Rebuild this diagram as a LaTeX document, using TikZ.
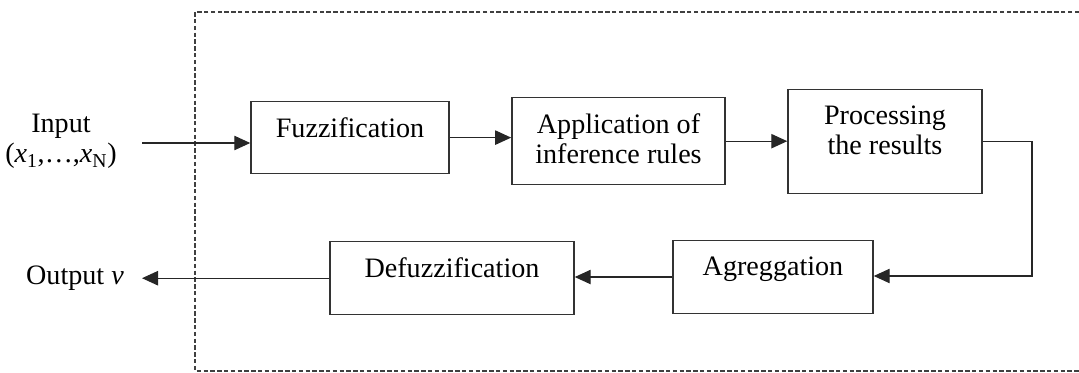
\documentclass[tikz,border=0pt]{standalone}
\usepackage{fontspec}
\setmainfont{Liberation Serif}
\usetikzlibrary{arrows.meta}

\begin{document}
\begin{tikzpicture}[
    x=0.025cm, y=-0.025cm,
    every node/.style={
        font=\fontsize{20}{21.3}\selectfont,
        text=black
    },
    stage/.style={
        draw=black!80,
        line width=1pt,
        anchor=north,
        align=center,
        inner xsep=0pt,
        inner ysep=0.4cm
    },
    flow/.style={
        draw=black!85,
        line width=0.8pt,
        -{Triangle[length=0.4cm,width=0.36cm]}
    },
    frame/.style={
        draw=black!75,
        line width=0.8pt,
        dash pattern=on 0.11cm off 0.06cm
    }
]

\useasboundingbox (0,0) rectangle (1079,373);

% dashed system border, open on the right
\draw[frame] (1079,12) -- (195,12) -- (195,371) -- (1079,371);

\node[anchor=north, align=center, inner sep=0pt] (input) at (61,114)
    {Input\\(\textit{x}\textsubscript{1},\ldots,\textit{x}\textsubscript{N})};
\node[anchor=base, inner sep=0pt] (output) at (75,285) {Output \textit{v}};

\node[stage, minimum width=4.95cm, text depth=0.5cm] (fuzz) at (350,101) {Fuzzification};
\node[stage, minimum width=5.33cm, text depth=0.13cm] (appl) at (618.5,97) {Application of\\inference rules};
\node[stage, minimum width=4.85cm, text depth=0.58cm] (proc) at (885,89) {Processing\\the results};

\node[stage, minimum width=5cm, text depth=0.55cm] (aggr) at (773,240) {Agreggation};
\node[stage, minimum width=6.1cm, text depth=0.53cm] (defz) at (452,241) {Defuzzification};

\coordinate (inend) at (142,143);
\coordinate (outend) at (142,278);
\coordinate (bend) at (1032,276);

\draw[flow] (inend) -- (inend -| fuzz.west);
\draw[flow] (fuzz.east) -- (fuzz.east -| appl.west);
\draw[flow] (appl.east) -- (appl.east -| proc.west);
\draw[flow] (proc.east) -| (bend) -- (bend -| aggr.east);
\draw[flow] (aggr.west) -- (aggr.west -| defz.east);
\draw[flow] (defz.west) -- (defz.west -| outend);

\end{tikzpicture}
\end{document}
